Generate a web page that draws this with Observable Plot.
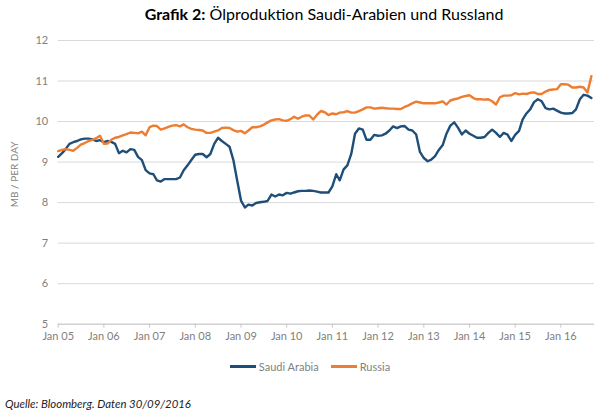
<!DOCTYPE html>
<html>
<head>
<meta charset="utf-8">
<script src="https://cdn.jsdelivr.net/npm/d3@7"></script>
<script src="https://cdn.jsdelivr.net/npm/@observablehq/plot@0.6"></script>
<style>
  html, body { margin: 0; padding: 0; background: #fff; }
  body { width: 600px; height: 414px; overflow: hidden; font-family: Lato, "Open Sans", sans-serif; }
  #title { height: 30px; line-height: 28px; text-align: center; font-size: 16px; color: #000; padding-left: 48px; box-sizing: border-box; }
  #title b { font-weight: 700; }
  #legend { display: flex; justify-content: center; align-items: center; height: 22px; font-size: 11px; color: #7f7f7f; padding-left: 20px; box-sizing: border-box; }
  .item { display: flex; align-items: center; margin: 0 6px; }
  .sw { width: 26px; height: 3px; margin-right: 3px; }
  #caption { margin-top: 20px; padding-left: 5px; font-size: 11.4px; font-style: italic; color: #222; }
</style>
</head>
<body>
<div id="title"><b>Grafik 2:</b> Ölproduktion Saudi-Arabien und Russland</div>
<div id="chart"></div>
<div id="legend"></div>
<div id="caption">Quelle: Bloomberg. Daten 30/09/2016</div>
<script>
// Monthly data, Jan 2005 – Sep 2016 (million barrels per day)
const seriesNames = ["Saudi Arabia", "Russia"];
const seriesColors = ["#1f4e79", "#ed7d31"];
const yTicks = [5, 6, 7, 8, 9, 10, 11, 12];
const xTickYears = [2005, 2006, 2007, 2008, 2009, 2010, 2011, 2012, 2013, 2014, 2015, 2016];
const yAxisTitle = "MB / PER DAY";

const saudi = [
  9.13, 9.22, 9.32, 9.45, 9.49, 9.52, 9.56, 9.58, 9.58, 9.56, 9.52, 9.54,
  9.49, 9.52, 9.50, 9.45, 9.22, 9.28, 9.24, 9.32, 9.30, 9.13, 9.05, 8.80,
  8.72, 8.70, 8.55, 8.52, 8.58, 8.58, 8.58, 8.58, 8.62, 8.80, 8.92, 9.05,
  9.18, 9.20, 9.20, 9.12, 9.20, 9.45, 9.60, 9.52, 9.45, 9.38, 9.05, 8.55,
  8.05, 7.88, 7.95, 7.93, 7.99, 8.01, 8.02, 8.04, 8.20, 8.15, 8.20, 8.18,
  8.24, 8.22, 8.25, 8.28, 8.29, 8.29, 8.30, 8.29, 8.27, 8.25, 8.25, 8.25,
  8.40, 8.70, 8.55, 8.82, 8.92, 9.20, 9.70, 9.83, 9.80, 9.55, 9.55, 9.67,
  9.65, 9.66, 9.70, 9.78, 9.88, 9.84, 9.88, 9.89, 9.80, 9.78, 9.68, 9.25,
  9.10, 9.02, 9.06, 9.15, 9.30, 9.42, 9.70, 9.90, 9.98, 9.85, 9.68, 9.78,
  9.70, 9.65, 9.60, 9.60, 9.62, 9.72, 9.80, 9.72, 9.62, 9.72, 9.68, 9.52,
  9.67, 9.77, 10.05, 10.20, 10.30, 10.48, 10.55, 10.50, 10.33, 10.30, 10.32, 10.27,
  10.22, 10.20, 10.20, 10.21, 10.30, 10.55, 10.66, 10.64, 10.58
];
const russia = [
  9.27, 9.30, 9.32, 9.30, 9.28, 9.35, 9.43, 9.47, 9.52, 9.55, 9.59, 9.65,
  9.45, 9.46, 9.55, 9.60, 9.62, 9.66, 9.69, 9.73, 9.72, 9.71, 9.75, 9.66,
  9.86, 9.90, 9.89, 9.80, 9.83, 9.87, 9.90, 9.91, 9.88, 9.93, 9.86, 9.82,
  9.80, 9.79, 9.78, 9.72, 9.72, 9.75, 9.78, 9.84, 9.85, 9.84, 9.79, 9.75,
  9.77, 9.71, 9.78, 9.86, 9.86, 9.88, 9.92, 9.98, 10.03, 10.05, 10.06, 10.03,
  10.02, 10.06, 10.12, 10.07, 10.12, 10.15, 10.15, 10.05, 10.17, 10.26, 10.23, 10.16,
  10.20, 10.18, 10.22, 10.23, 10.26, 10.22, 10.22, 10.26, 10.30, 10.35, 10.35, 10.32,
  10.33, 10.34, 10.33, 10.32, 10.32, 10.31, 10.31, 10.36, 10.40, 10.45, 10.49, 10.47,
  10.45, 10.45, 10.45, 10.45, 10.47, 10.50, 10.42, 10.52, 10.55, 10.57, 10.61, 10.63,
  10.65, 10.58, 10.55, 10.55, 10.54, 10.55, 10.50, 10.42, 10.60, 10.64, 10.64, 10.65,
  10.70, 10.67, 10.69, 10.68, 10.71, 10.72, 10.68, 10.68, 10.74, 10.78, 10.79, 10.80,
  10.92, 10.92, 10.91, 10.84, 10.84, 10.86, 10.84, 10.72, 11.12
];

const months = d3.utcMonth.range(new Date(Date.UTC(2005, 0, 1)), new Date(Date.UTC(2016, 9, 1)));
const rows = [];
[saudi, russia].forEach((vals, k) => {
  vals.forEach((v, i) => rows.push({date: months[i], value: v, series: seriesNames[k]}));
});
const xTicks = xTickYears.map(y => new Date(Date.UTC(y, 0, 1)));
const fmt = d3.utcFormat("%b %y");

const plot = Plot.plot({
  width: 600,
  height: 325,
  marginTop: 10,
  marginBottom: 31.3,
  marginLeft: 57.7,
  marginRight: 6,
  style: {fontFamily: "Lato, 'Open Sans', sans-serif", fontSize: "11px", color: "#7f7f7f", background: "#fff"},
  x: {type: "utc", domain: [new Date(Date.UTC(2005, 0, 1)), new Date(Date.UTC(2016, 8, 26))]},
  y: {domain: [5, 12]},
  color: {domain: seriesNames, range: seriesColors},
  marks: [
    Plot.ruleY(yTicks, {stroke: "#d9d9d9", strokeWidth: 1}),
    Plot.ruleY([5], {stroke: "#c8c8c8", strokeWidth: 1}),
    Plot.axisY({ticks: yTicks, tickFormat: d => String(d), tickSize: 0, tickPadding: 10, label: null, fill: "#7f7f7f"}),
    Plot.text([yAxisTitle], {text: d => d, frameAnchor: "left", textAnchor: "middle", rotate: -90, dx: -43, dy: -8, fill: "#7f7f7f", fontSize: 10}),
    Plot.axisX({ticks: xTicks, tickFormat: fmt, tickSize: 4, tickPadding: 4, stroke: "#c8c8c8", fill: "#7f7f7f", label: null}),
    Plot.line(rows, {x: "date", y: "value", z: "series", stroke: "series", strokeWidth: 2.4, strokeLinejoin: "round", strokeLinecap: "round"})
  ]
});
document.getElementById("chart").appendChild(plot);

const legend = document.getElementById("legend");
seriesNames.forEach((name, i) => {
  const it = document.createElement("div");
  it.className = "item";
  const sw = document.createElement("div");
  sw.className = "sw";
  sw.style.background = seriesColors[i];
  const tx = document.createElement("span");
  tx.textContent = name;
  it.appendChild(sw);
  it.appendChild(tx);
  legend.appendChild(it);
});
</script>
</body>
</html>
